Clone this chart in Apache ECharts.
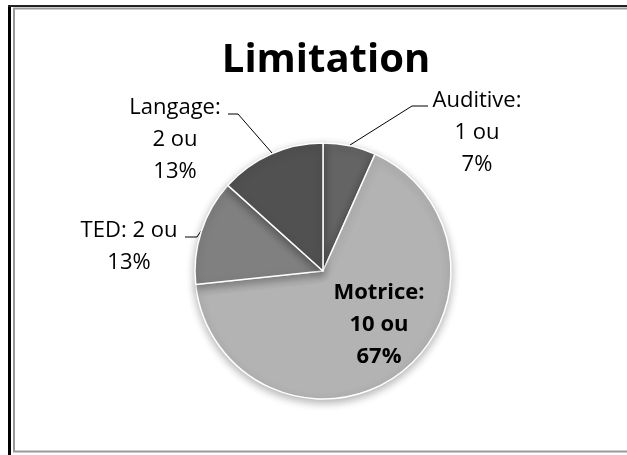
<!DOCTYPE html>
<html lang="fr">
<head>
    <meta charset="UTF-8">
    <title>Limitation</title>
    <script src="https://cdn.jsdelivr.net/npm/echarts@6/dist/echarts.min.js"></script>
    <style>
        body { margin: 0; background: #fff; }
    </style>
</head>
<body>
    <div id="main" style="width: 627px;height:455px;"></div>
    <script>
// données
var categories = ['Auditive', 'Motrice', 'TED', 'Langage'];
var counts = [1, 10, 2, 2];
var colors = ['#646464', '#b3b3b3', '#808080', '#515151'];

// position des étiquettes (centre du bloc de texte) et traits de rappel
var labelPos = [[477, 133], [379, 325], [129, 247], [175, 140]];
var leaders = [
    [[350, 145], [412, 106], [428, 106]],
    null,
    [[201, 231], [197, 237], [185, 237]],
    [[272, 153], [238, 114], [228, 114]]
];

var myChart = echarts.init(document.getElementById('main'));

var seriesData = categories.map(function (name, i) {
    var item = { name: name, value: counts[i], itemStyle: { color: colors[i] } };
    if (name === 'Motrice') {
        item.label = { position: 'inside', fontWeight: 'bold' };
        item.labelLine = { show: false };
    }
    return item;
});

var option = {
    backgroundColor: '#fff',
    title: {
        text: 'Limitation',
        left: 321,
        top: 36,
        textAlign: 'center',
        textStyle: {
            fontFamily: 'Open Sans',
            fontWeight: 'bold',
            fontSize: 40,
            color: '#000'
        }
    },
    graphic: [
        { type: 'rect', shape: { x: 8, y: 5, width: 3, height: 450 }, style: { fill: '#000' } },
        { type: 'rect', shape: { x: 8, y: 5, width: 619, height: 2 }, style: { fill: '#222' } },
        { type: 'rect', shape: { x: 14, y: 8.5, width: 700, height: 443 }, style: { fill: 'none', stroke: '#999', lineWidth: 2 } }
    ],
    series: [
        {
            type: 'pie',
            center: [323, 271],
            radius: 128,
            startAngle: 90,
            clockwise: true,
            animation: false,
            percentPrecision: 0,
            itemStyle: {
                borderColor: '#fff',
                borderWidth: 1.5,
                shadowBlur: 8,
                shadowOffsetY: 3,
                shadowColor: 'rgba(0,0,0,0.3)'
            },
            label: {
                show: true,
                position: 'outside',
                fontFamily: 'Open Sans',
                fontSize: 22,
                lineHeight: 32,
                color: '#000',
                align: 'center',
                formatter: function (p) {
                    if (p.name === 'TED') {
                        return p.name + ': ' + p.value + ' ou\n' + p.percent + '%';
                    }
                    return p.name + ':\n' + p.value + ' ou\n' + p.percent + '%';
                }
            },
            labelLine: {
                show: true,
                lineStyle: { color: '#000', width: 1 }
            },
            labelLayout: function (params) {
                var i = params.dataIndex;
                var res = {
                    x: labelPos[i][0],
                    y: labelPos[i][1],
                    align: 'center',
                    verticalAlign: 'middle'
                };
                if (leaders[i]) {
                    res.labelLinePoints = leaders[i];
                }
                return res;
            },
            emphasis: { disabled: true },
            data: seriesData
        }
    ]
};

myChart.setOption(option);
    </script>
</body>
</html>
